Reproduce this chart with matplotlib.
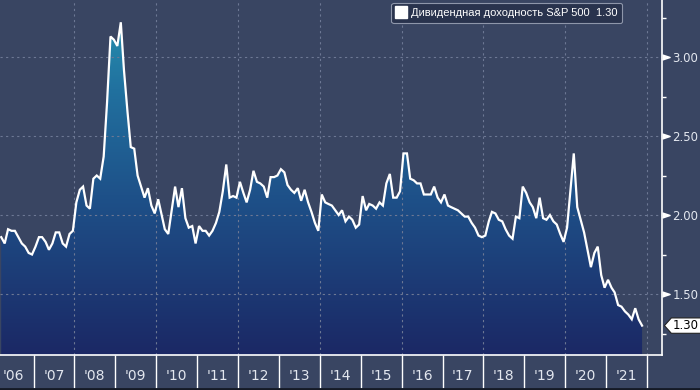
import numpy as np
import pandas as pd
import matplotlib
matplotlib.use('Agg')
import matplotlib.pyplot as plt
import matplotlib.dates as mdates
from matplotlib.colors import LinearSegmentedColormap
from matplotlib.patches import PathPatch
from matplotlib.path import Path
from matplotlib.lines import Line2D
from matplotlib.ticker import FixedLocator, NullFormatter

# monthly S&P 500 dividend yield, %, from Mar 2006
dividend_yield = [
    1.86, 1.82, 1.91, 1.90, 1.90, 1.86, 1.82, 1.80, 1.76, 1.75, 1.80, 1.86, 1.86, 1.83, 1.78, 1.82,
    1.89, 1.89, 1.82, 1.80, 1.88, 1.90, 2.08, 2.16, 2.18, 2.06, 2.04, 2.23, 2.25, 2.23, 2.37, 2.71,
    3.13, 3.11, 3.07, 3.22, 2.92, 2.66, 2.43, 2.42, 2.25, 2.18, 2.11, 2.17, 2.06, 2.01, 2.10, 2.00,
    1.91, 1.88, 2.03, 2.18, 2.05, 2.17, 1.98, 1.92, 1.93, 1.82, 1.93, 1.90, 1.90, 1.87, 1.90, 1.95,
    2.02, 2.15, 2.32, 2.11, 2.12, 2.11, 2.21, 2.14, 2.08, 2.16, 2.28, 2.21, 2.20, 2.18, 2.11, 2.24,
    2.24, 2.25, 2.29, 2.27, 2.19, 2.16, 2.14, 2.17, 2.09, 2.16, 2.08, 2.02, 1.95, 1.90, 2.13, 2.08,
    2.07, 2.06, 2.03, 2.00, 2.03, 1.96, 1.99, 1.97, 1.92, 1.94, 2.12, 2.03, 2.07, 2.06, 2.04, 2.08,
    2.06, 2.20, 2.26, 2.11, 2.11, 2.15, 2.39, 2.39, 2.23, 2.22, 2.20, 2.20, 2.13, 2.13, 2.13, 2.18,
    2.11, 2.08, 2.13, 2.06, 2.05, 2.04, 2.03, 2.01, 1.99, 1.99, 1.95, 1.92, 1.87, 1.86, 1.87, 1.96,
    2.02, 2.01, 1.97, 1.96, 1.91, 1.87, 1.85, 1.99, 1.98, 2.18, 2.14, 2.08, 2.05, 1.98, 2.11, 1.98,
    1.97, 2.00, 1.96, 1.94, 1.88, 1.83, 1.92, 2.16, 2.39, 2.05, 1.97, 1.89, 1.78, 1.67, 1.76, 1.80,
    1.62, 1.54, 1.59, 1.54, 1.51, 1.43, 1.42, 1.39, 1.37, 1.34, 1.41, 1.34, 1.30,
]
start_date = '2006-03-18'
years = list(range(2006, 2022))
y_major = [1.50, 2.00, 2.50, 3.00]
y_minor = [1.25, 1.75, 2.25, 2.75, 3.25]
series_name = 'Дивидендная доходность S&P 500'

bg = '#394562'
text_col = '#e3e7ef'

dates = pd.date_range(start_date, periods=len(dividend_yield), freq=pd.DateOffset(months=1))
x = mdates.date2num(dates)
yv = np.array(dividend_yield)
last = yv[-1]

fig = plt.figure(figsize=(7, 3.9), dpi=100, facecolor=bg)
ax = fig.add_axes([0, 35/390, 662/700, 355/390], facecolor=bg)
xmin, xmax = mdates.date2num(pd.Timestamp('2006-03-07')), mdates.date2num(pd.Timestamp('2022-05-15'))
ymin, ymax = 1.114, 3.361
ax.set_xlim(xmin, xmax)
ax.set_ylim(ymin, ymax)

# gradient area under the line
cmap = LinearSegmentedColormap.from_list('g', [(0, '#1b2865'), (0.45, '#1e5189'), (0.75, '#21719f'), (1, '#2896b2')])
grad = np.linspace(0, 1, 256).reshape(-1, 1)
im = ax.imshow(grad, extent=[xmin, xmax, ymin, ymax], origin='lower', aspect='auto', cmap=cmap, zorder=1)
poly = ax.fill_between(x, yv, ymin, color='none', lw=0)
clip = PathPatch(poly.get_paths()[0], transform=ax.transData, fc='none', ec='none')
ax.add_patch(clip)
im.set_clip_path(clip)

# dotted grid
for yr in range(2008, 2023, 2):
    ax.axvline(mdates.date2num(pd.Timestamp(f'{yr}-01-01')), color='#6d7894', lw=0.8, ls=(0, (2, 3)), zorder=2)
for yy in y_major:
    ax.axhline(yy, color='#6d7894', lw=0.8, ls=(0, (2, 3)), zorder=2)

ax.plot(x, yv, color='white', lw=1.6, zorder=3, solid_joinstyle='miter')

# spines
for s in ['top', 'left']:
    ax.spines[s].set_visible(False)
ax.spines['right'].set_color('white')
ax.spines['bottom'].set_color('white')
ax.spines['right'].set_linewidth(1.2)
ax.spines['bottom'].set_linewidth(1.2)

# y axis on the right
ax.yaxis.tick_right()
ax.set_yticks(y_major)
ax.set_yticklabels([f'{v:.2f}' for v in y_major])
ax.yaxis.set_minor_locator(FixedLocator(y_minor))
ax.tick_params(axis='y', which='major', length=0, pad=7.5, labelsize=8.5, labelcolor=text_col)
ax.tick_params(axis='y', which='minor', length=3, width=1, color='white', direction='out')
tri = [(0, -1), (3, 0), (0, 1)]
ax.plot([1] * len(y_major), y_major, transform=ax.get_yaxis_transform(), ls='none',
        marker=tri, ms=11, color='white', clip_on=False, zorder=5)

# x axis: year separators and labels
ax.xaxis.set_major_locator(FixedLocator([mdates.date2num(pd.Timestamp(f'{y + 1}-01-01')) for y in years]))
ax.xaxis.set_major_formatter(NullFormatter())
ax.xaxis.set_minor_locator(FixedLocator([mdates.date2num(pd.Timestamp(f'{y}-07-01')) for y in years]))
ax.set_xticklabels([f"'{y % 100:02d}" for y in years], minor=True)
ax.tick_params(axis='x', which='major', length=24, width=1, color='white', direction='out')
ax.tick_params(axis='x', which='minor', length=0, pad=10, labelsize=10, labelcolor=text_col)
for lab in ax.get_xticklabels(minor=True):
    lab.set_family(['Liberation Sans Narrow', 'DejaVu Sans'])


# last value tag: white box pointing left
def tag(x0, y0, w, h, mutation_size):
    p = 0.25 * mutation_size
    x0, y0, w, h = x0 - p * 0.6, y0 - p * 0.4, w + p * 2, h + p * 0.8
    tip = h * 0.45
    verts = [(x0 - tip, y0 + h / 2), (x0, y0), (x0 + w, y0), (x0 + w, y0 + h), (x0, y0 + h),
             (x0 - tip, y0 + h / 2)]
    return Path(verts, [Path.MOVETO] + [Path.LINETO] * 4 + [Path.CLOSEPOLY])


ax.annotate(f'{last:.2f}', xy=(1, last), xycoords=('axes fraction', 'data'), xytext=(8, 0),
            textcoords='offset points', va='center', ha='left', fontsize=8.5, color='black',
            bbox=dict(boxstyle=tag, fc='white', ec='#222222', lw=0.8), annotation_clip=False, zorder=6)

# legend
h = Line2D([], [], marker='s', ls='none', color='white', ms=8)
leg = ax.legend([h], [f'{series_name}  {last:.2f}'], loc='upper right', bbox_to_anchor=(0.94, 0.992),
                borderaxespad=0, frameon=True, fancybox=True, facecolor='#29334d', edgecolor='#8e96aa',
                framealpha=1, handlelength=0.8, handletextpad=0.5, borderpad=0.45,
                prop={'family': 'Liberation Sans', 'size': 8})
for t in leg.get_texts():
    t.set_color('white')
leg.get_frame().set_linewidth(0.8)
leg.set_zorder(10)

fig.add_artist(Line2D([0, 1], [0.003, 0.003], transform=fig.transFigure, color='#151a26', lw=2))

fig.savefig('out.png', dpi=100, facecolor=bg)
